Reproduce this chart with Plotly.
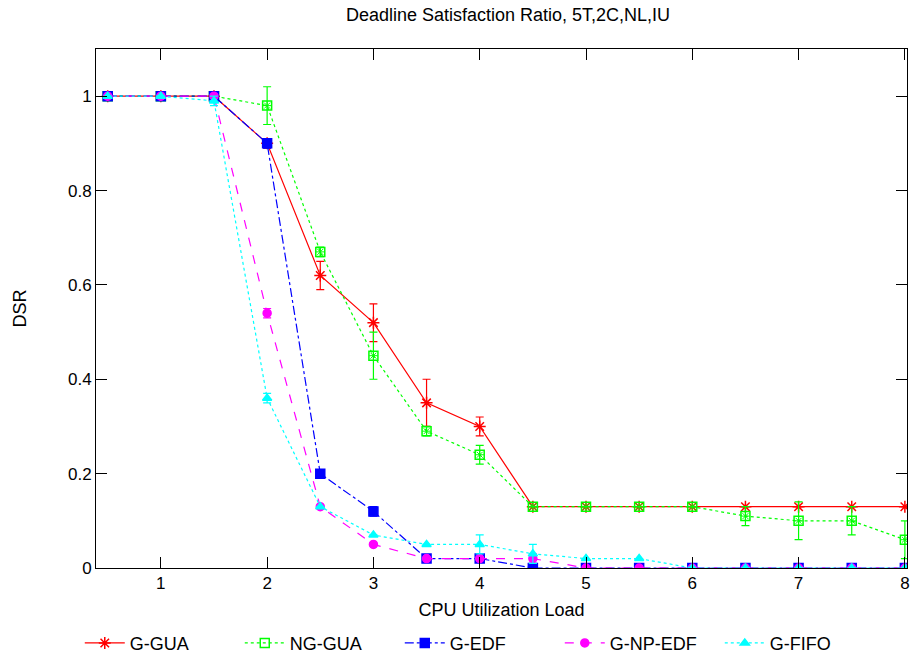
import plotly.graph_objects as go

load = [0.5, 1, 1.5, 2, 2.5, 3, 3.5, 4, 4.5, 5, 5.5, 6, 6.5, 7, 7.5, 8]

g_gua = [1, 1, 1, 0.90, 0.62, 0.52, 0.35, 0.30, 0.13, 0.13, 0.13, 0.13, 0.13, 0.13, 0.13, 0.13]
g_gua_err = [0, 0, 0, 0.01, 0.03, 0.04, 0.05, 0.02, 0, 0, 0, 0, 0, 0, 0, 0]

ng_gua = [1, 1, 1, 0.98, 0.67, 0.45, 0.29, 0.24, 0.13, 0.13, 0.13, 0.13, 0.11, 0.10, 0.10, 0.06]
ng_gua_err = [0, 0, 0, 0.04, 0.01, 0.05, 0.01, 0.02, 0, 0, 0, 0, 0.02, 0.04, 0.03, 0.04]

g_edf = [1, 1, 1, 0.90, 0.20, 0.12, 0.02, 0.02, 0, 0, 0, 0, 0, 0, 0, 0]
g_edf_err = [0, 0, 0, 0.01, 0.005, 0.01, 0, 0, 0, 0, 0, 0, 0, 0, 0, 0]

g_np_edf = [1, 1, 1, 0.54, 0.13, 0.05, 0.02, 0.02, 0.02, 0, 0, 0, 0, 0, 0, 0]
g_np_edf_err = [0, 0, 0, 0.01, 0, 0, 0, 0, 0.01, 0, 0, 0, 0, 0, 0, 0]

g_fifo = [1, 1, 0.99, 0.36, 0.13, 0.07, 0.05, 0.05, 0.03, 0.02, 0.02, 0, 0, 0, 0, 0]
g_fifo_err = [0, 0, 0.01, 0.01, 0, 0, 0, 0.02, 0.02, 0, 0, 0, 0, 0, 0, 0]

x_ticks = [1, 2, 3, 4, 5, 6, 7, 8]
y_ticks = [0, 0.2, 0.4, 0.6, 0.8, 1]

FONT = "Liberation Sans"

series = [
    ("G-GUA", g_gua, g_gua_err, "#ff0000", "solid", "asterisk-open", 10),
    ("NG-GUA", ng_gua, ng_gua_err, "#00ff00", "dot", "square-open", 9),
    ("G-EDF", g_edf, g_edf_err, "#0000ff", "dashdot", "square", 9),
    ("G-NP-EDF", g_np_edf, g_np_edf_err, "#ff00ff", "dash", "circle", 8),
    ("G-FIFO", g_fifo, g_fifo_err, "#00ffff", "dot", "triangle-up", 8),
]

fig = go.Figure()
for name, y, err, color, dash, sym, size in series:
    fig.add_trace(go.Scatter(
        x=load, y=y, name=name, mode="lines+markers",
        line=dict(color=color, width=1.2, dash=dash),
        marker=dict(symbol=sym, size=size, color=color, line=dict(color=color, width=1.5)),
        error_y=dict(type="data", array=err, visible=True, color=color, thickness=1.2, width=4),
    ))
    if name == "NG-GUA":
        fig.add_trace(go.Scatter(
            x=load, y=y, mode="markers", showlegend=False, hoverinfo="skip",
            marker=dict(symbol="asterisk-open", size=7, color=color, line=dict(color=color, width=1)),
        ))

fig.update_layout(
    width=913, height=661,
    margin=dict(l=96, r=6, t=49, b=93, autoexpand=False),
    paper_bgcolor="white", plot_bgcolor="white",
    font=dict(family=FONT, size=17, color="black"),
    title=dict(text="Deadline Satisfaction Ratio, 5T,2C,NL,IU", x=508 / 913, xanchor="center",
               y=1 - 15 / 661, yanchor="middle", font=dict(size=18, family=FONT)),
    xaxis=dict(range=[0.39, 8.02], tickvals=x_ticks, ticktext=[str(v) for v in x_ticks],
               ticks="inside", ticklen=11, tickcolor="black", showline=True, linecolor="black",
               linewidth=1, mirror="allticks", showgrid=False, zeroline=False,
               title=dict(text="CPU Utilization Load", standoff=10, font=dict(size=18))),
    yaxis=dict(range=[0, 1.1], tickvals=y_ticks, ticktext=["0", "0.2", "0.4", "0.6", "0.8", "1"],
               ticks="inside", ticklen=11, tickcolor="black", showline=True, linecolor="black",
               linewidth=1, mirror="allticks", showgrid=False, zeroline=False,
               title=dict(text="DSR", standoff=36, font=dict(size=18))),
    legend=dict(orientation="h", x=-0.02, xanchor="left", y=-0.145, yanchor="middle",
                font=dict(size=18), entrywidth=105, itemwidth=40, bgcolor="rgba(0,0,0,0)"),
)

fig.write_html("out.html")
